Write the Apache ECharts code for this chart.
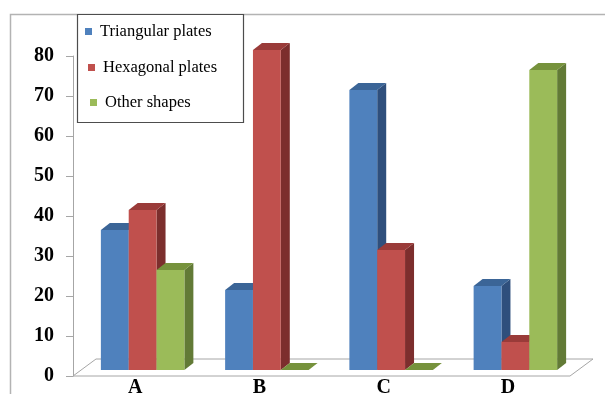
<!DOCTYPE html>
<html>
<head>
<meta charset="utf-8">
<script src="https://cdn.jsdelivr.net/npm/echarts@6/dist/echarts.min.js"></script>
<style>html,body{margin:0;padding:0;background:#fff;}#c{width:605px;height:394px;}</style>
</head>
<body>
<div id="c"></div>
<script>
var categories = ['A', 'B', 'C', 'D'];
var seriesNames = ['Triangular plates', 'Hexagonal plates', 'Other shapes'];
var triangular = [35, 20, 70, 21];
var hexagonal = [40, 80, 30, 7];
var other = [25, 0, 0, 75];
var yTicks = [0, 10, 20, 30, 40, 50, 60, 70, 80];

var seriesValues = [triangular, hexagonal, other];
var faceColors = [
  {front: '#4F81BD', side: '#2F4F7C', top: '#3B6597'},
  {front: '#C0504D', side: '#7C2E2D', top: '#9A3B39'},
  {front: '#9BBB59', side: '#627A36', top: '#76923C'}
];
var DX = 7.5, DY = 6, DEPTHX = 9, DEPTHY = 7, FLOORX = 23, FLOORY = 17;

var chart = echarts.init(document.getElementById('c'), null, {renderer: 'canvas'});

function barRender(sIdx) {
  return function (params, api) {
    var cat = api.value(0), v = api.value(1);
    var base = api.coord([cat, 0]);
    var topP = api.coord([cat, v]);
    var band = api.size([1, 0])[0];
    var w = band * 0.224;
    var x0 = base[0] + DX - 1.5 * w + sIdx * w;
    var yb = base[1] - DY;
    var yt = topP[1] - DY;
    var c = faceColors[sIdx];
    var children = [];
    if (yb - yt > 0.5) {
      children.push({type: 'polygon', shape: {points: [[x0 + w, yt], [x0 + w + DEPTHX, yt - DEPTHY], [x0 + w + DEPTHX, yb - DEPTHY], [x0 + w, yb]]}, style: {fill: c.side}});
      children.push({type: 'rect', shape: {x: x0, y: yt, width: w, height: yb - yt}, style: {fill: c.front}});
    }
    children.push({type: 'polygon', shape: {points: [[x0, yt], [x0 + DEPTHX, yt - DEPTHY], [x0 + w + DEPTHX, yt - DEPTHY], [x0 + w, yt]]}, style: {fill: c.top}});
    return {type: 'group', children: children};
  };
}

var series = [{
  type: 'custom',
  silent: true,
  renderItem: function (params, api) {
    var cs = params.coordSys;
    var yb = cs.y + cs.height;
    return {
      type: 'polygon',
      shape: {points: [[cs.x, yb], [cs.x + cs.width, yb], [cs.x + cs.width + FLOORX, yb - FLOORY], [cs.x + FLOORX, yb - FLOORY]]},
      style: {fill: '#fff', stroke: '#A6A6A6', lineWidth: 1}
    };
  },
  data: [[0, 0]],
  z: 1
}];
seriesNames.forEach(function (name, s) {
  series.push({
    type: 'custom',
    name: name,
    itemStyle: {color: faceColors[s].front},
    renderItem: barRender(s),
    encode: {x: 0, y: 1},
    data: categories.map(function (c, i) { return [i, seriesValues[s][i]]; }),
    z: 2
  });
});

var legendTops = [23, 59, 94];
var legendLefts = [85, 88, 90];
var legends = seriesNames.map(function (name, i) {
  return {
    data: [name],
    left: legendLefts[i], top: legendTops[i],
    padding: 0,
    z: 10,
    icon: 'rect', itemWidth: 7, itemHeight: 7,
    selectedMode: false,
    textStyle: {fontFamily: 'Liberation Serif', fontSize: 16.5, color: '#000', lineHeight: 16, padding: [0, 0, 0, 3]}
  };
});

chart.setOption({
  animation: false,
  backgroundColor: '#fff',
  graphic: [
    {type: 'rect', shape: {x: 10.5, y: 14.5, width: 700, height: 500}, style: {fill: 'none', stroke: '#B3B3B3', lineWidth: 1.5}, z: 0},
    {type: 'rect', shape: {x: 77.5, y: 14.5, width: 166, height: 108}, style: {fill: '#fff', stroke: '#4D4D4D', lineWidth: 1.2}, z: 1}
  ],
  legend: legends,
  grid: {left: 73, top: 56, width: 497, bottom: 18, containLabel: false, outerBoundsMode: 'none'},
  xAxis: {
    type: 'category',
    data: categories,
    axisLine: {show: false},
    axisTick: {show: false},
    axisLabel: {fontFamily: 'Liberation Serif', fontWeight: 'bold', fontSize: 20, color: '#000', margin: 2}
  },
  yAxis: {
    type: 'value',
    min: yTicks[0], max: yTicks[yTicks.length - 1], interval: 10,
    axisLine: {show: true, lineStyle: {color: '#A6A6A6'}},
    axisTick: {show: true, length: 7, lineStyle: {color: '#A6A6A6'}},
    splitLine: {show: false},
    axisLabel: {fontFamily: 'Liberation Serif', fontWeight: 'bold', fontSize: 20, color: '#000', margin: 19, padding: [5, 0, 0, 0]}
  },
  series: series
});
</script>
</body>
</html>
